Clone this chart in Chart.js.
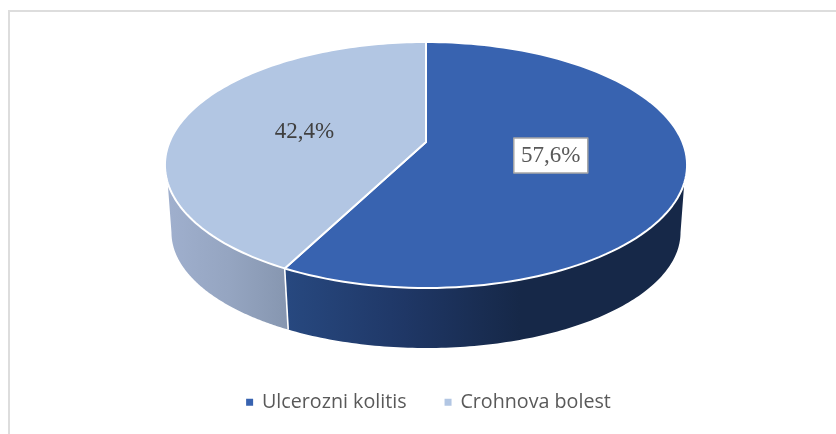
<!DOCTYPE html>
<html><head><meta charset="utf-8">
<style>html,body{margin:0;padding:0;background:#fff}canvas{display:block}</style>
<script src="https://cdn.jsdelivr.net/npm/chart.js@4/dist/chart.umd.min.js"></script>
</head><body><canvas id="c" width="836" height="434"></canvas>
<script>
const categories = ["Ulcerozni kolitis", "Crohnova bolest"];
const shares = [57.6, 42.4];
const topColors = ["#3863B0", "#B2C6E3"];
const sideStops = [["#27487F", "#1F3766", "#162848"], ["#9FAFCD", "#95A5C1", "#8696B0"]];
const labelNudge = [[0, 0], [-2, 3]];

const CX = 426, CY = 165, DEPTH = 67.4, SHRINK_X = 0.975, SHRINK_Y = 0.94, K = -0.187, W = 2.085, B = -0.187;
const TOP_EDGE = 18.9 * Math.PI / 180, LOW_EDGE = 10.8 * Math.PI / 180;
function project(a, r, R, lower) {
  const u = r * Math.cos(a), v = r * Math.sin(a), d = 1 + K * v;
  let x = W * R * u / d, y = R * (v + B) / d;
  if (lower) { x *= SHRINK_X; y = y * SHRINK_Y + DEPTH; }
  return [CX + x, CY + y];
}
function trace(ctx, from, to, R, lower, first) {
  const n = 120;
  for (let i = 0; i <= n; i++) {
    const p = project(from + (to - from) * i / n, 1, R, lower);
    if (first && i === 0) ctx.moveTo(p[0], p[1]); else ctx.lineTo(p[0], p[1]);
  }
}
const pie3d = {
  id: "pie3d",
  afterLayout(chart) {
    const l = chart.legend;
    l.left += 11; l.right += 11; l.top -= 12; l.bottom -= 12;
  },
  beforeDraw(chart) {
    const ctx = chart.ctx;
    ctx.save();
    ctx.strokeStyle = "#DDDDDD"; ctx.lineWidth = 2;
    ctx.beginPath(); ctx.moveTo(9, 434); ctx.lineTo(9, 11); ctx.lineTo(836, 11); ctx.stroke();
    ctx.restore();
  },
  beforeDatasetDraw(chart, args) {
    const ctx = chart.ctx, arcs = args.meta.data;
    const R = arcs[0].outerRadius;
    const seam = arcs[0].endAngle;
    ctx.save();
    // walls
    const walls = [
      { topFrom: TOP_EDGE, topTo: seam, lowFrom: seam, lowTo: LOW_EDGE, xs: [288, 420, 520] },
      { topFrom: seam, topTo: Math.PI - TOP_EDGE, lowFrom: Math.PI - LOW_EDGE, lowTo: seam, xs: [170, 230, 288] }
    ];
    walls.forEach((w, i) => {
      const g = ctx.createLinearGradient(w.xs[0], 0, w.xs[2], 0);
      sideStops[i].forEach((c, j) => g.addColorStop(j / 2, c));
      ctx.beginPath();
      trace(ctx, w.topFrom, w.topTo, R, false, true);
      trace(ctx, w.lowFrom, w.lowTo, R, true, false);
      ctx.closePath();
      ctx.fillStyle = g;
      ctx.fill();
    });
    // divider on the wall
    const s1 = project(seam, 1, R, false), s2 = project(seam, 1, R, true);
    ctx.strokeStyle = "#fff"; ctx.lineWidth = 1.6;
    ctx.beginPath(); ctx.moveTo(s1[0], s1[1]); ctx.lineTo(s2[0], s2[1]); ctx.stroke();
    // top faces
    const hub = [CX, CY + R * B];
    arcs.forEach(el => {
      ctx.beginPath();
      ctx.moveTo(hub[0], hub[1]);
      trace(ctx, el.startAngle, el.endAngle, R, false, false);
      ctx.closePath();
      ctx.fillStyle = el.options.backgroundColor;
      ctx.fill();
      ctx.lineJoin = "round";
      ctx.strokeStyle = el.options.borderColor;
      ctx.lineWidth = el.options.borderWidth;
      ctx.stroke();
    });
    // labels
    ctx.font = "23px 'Liberation Serif'";
    ctx.textAlign = "center"; ctx.textBaseline = "middle";
    arcs.forEach((el, i) => {
      const mid = (el.startAngle + el.endAngle) / 2;
      const u = 0.49 * Math.cos(mid), v = 0.49 * Math.sin(mid), d = 1 + K * v;
      const x = CX + W * R * u / d + labelNudge[i][0], y = CY + R * (v + B) / d + labelNudge[i][1];
      const text = shares[i].toFixed(1).replace(".", ",") + "%";
      if (i === 0) {
        ctx.fillStyle = "#fff"; ctx.fillRect(x - 37, y - 18, 74, 35);
        ctx.strokeStyle = "#A6A6A6"; ctx.lineWidth = 1.5; ctx.strokeRect(x - 37, y - 18, 74, 35);
        ctx.fillStyle = "#595959";
      } else ctx.fillStyle = "#404040";
      ctx.fillText(text, x, y);
    });
    ctx.restore();
    return false;
  }
};
new Chart(document.getElementById("c"), {
  type: "pie",
  data: { labels: categories, datasets: [{ data: shares, backgroundColor: topColors, borderColor: "#fff", borderWidth: 2, radius: 123 }] },
  options: {
    responsive: false, animation: false,
    plugins: {
      tooltip: { enabled: false },
      legend: {
        position: "bottom",
        labels: {
          boxWidth: 5, boxHeight: 5, padding: 39, color: "#595959",
          font: { family: "Open Sans", size: 19.7 },
          generateLabels(chart) {
            return Chart.overrides.pie.plugins.legend.labels.generateLabels(chart)
              .map(item => ({ ...item, strokeStyle: item.fillStyle, lineWidth: 2 }));
          }
        }
      }
    }
  },
  plugins: [pie3d]
});
</script></body></html>
